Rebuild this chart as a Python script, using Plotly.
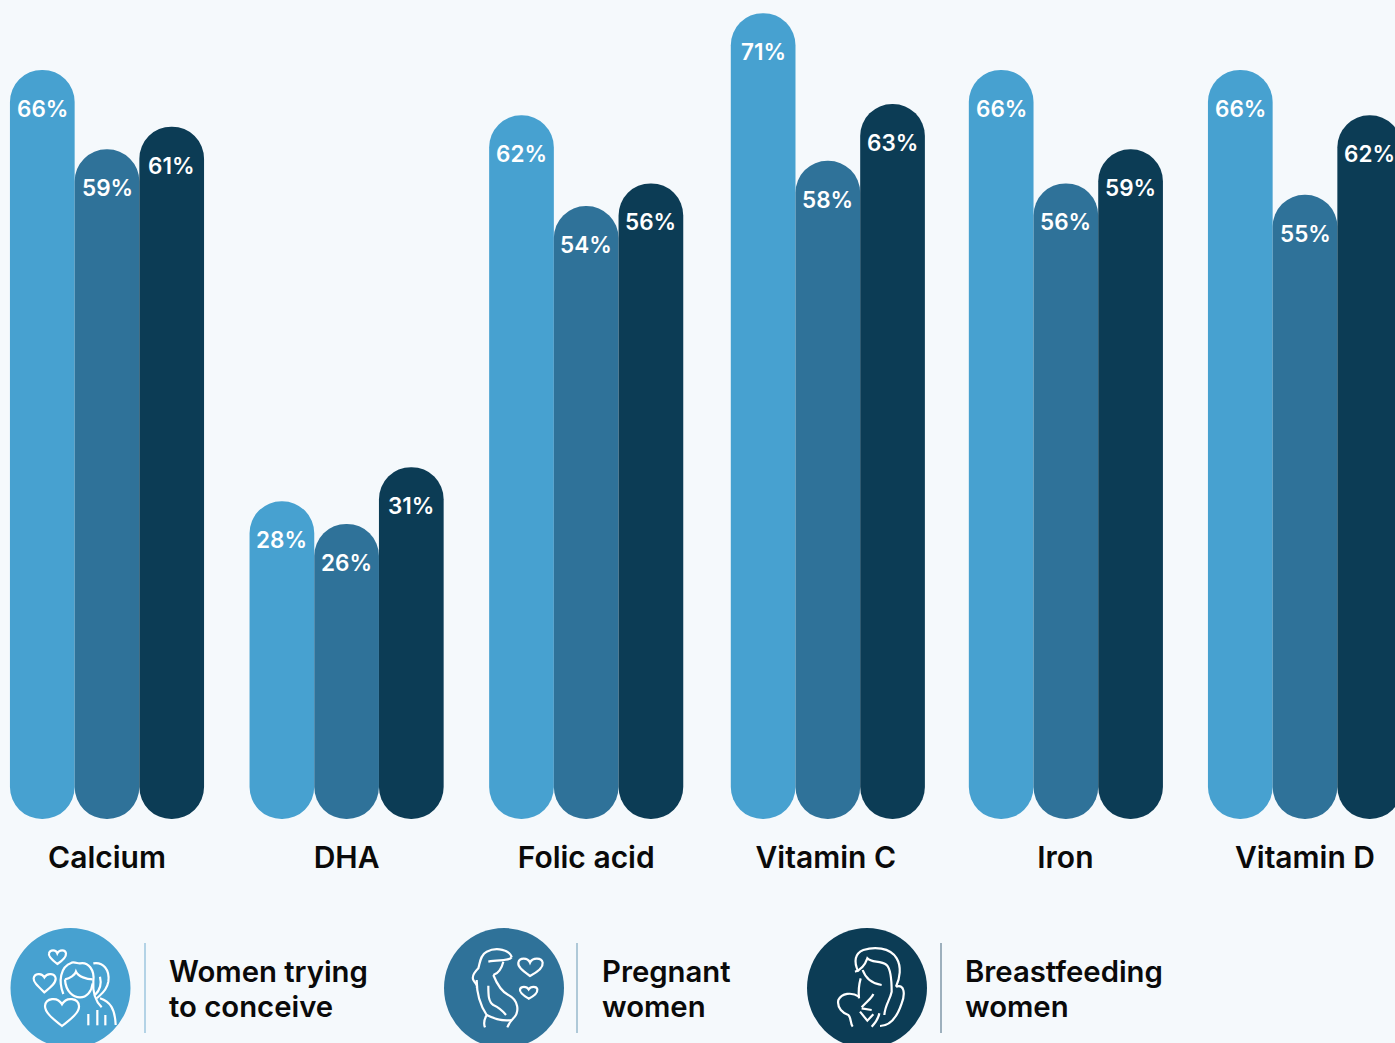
import re
import plotly.graph_objects as go

categories = ["Calcium", "DHA", "Folic acid", "Vitamin C", "Iron", "Vitamin D"]
trying = [66, 28, 62, 71, 66, 66]
pregnant = [59, 26, 54, 58, 56, 55]
breastfeeding = [61, 31, 56, 63, 59, 62]
series_lines = [["Women trying", "to conceive"], ["Pregnant", "women"], ["Breastfeeding", "women"]]
colors = ["#47A1D0", "#2F7299", "#0C3C55"]
divider_colors = ["#9CC6DF", "#97B8CC", "#7F97A8"]

W, H = 1395, 1043
BG = "#F5F9FC"
BASE_PX = 819
PX_PER_PCT = 11.35
GROUP_PX = 239.6
X0_PX = 107.0
BAR_PX = 64.7
RADIUS = BAR_PX / 2
FONT = "Inter"
TEXT_COLOR = "#0A0A0A"
nudge = [0, 0, 0, 0.0085, 0.002, 0]  # Vitamin C / Iron groups sit slightly right of the even grid

x_range = [-X0_PX / GROUP_PX, (W - X0_PX) / GROUP_PX]
y_range = [0, BASE_PX / PX_PER_PCT]
bar_w = BAR_PX / GROUP_PX

fig = go.Figure()
annotations = []
for k, (vals, col) in enumerate(zip([trying, pregnant, breastfeeding], colors)):
    xs = [i + nudge[i] + (k - 1) * bar_w for i in range(len(categories))]
    fig.add_bar(x=xs, y=vals, base=[0] * len(vals), width=bar_w,
                marker=dict(color=col, cornerradius=RADIUS, line_width=0),
                showlegend=False, hoverinfo="skip")
    for x, v in zip(xs, vals):
        annotations.append(dict(x=x, y=v, xref="x", yref="y", text=f"{v}%", showarrow=False,
                                yshift=-38.5, xanchor="center", yanchor="middle",
                                font=dict(family=FONT, size=22.5, color="white", weight=600)))


def px_path(s, ox=0.0, oy=0.0, scale=1.0):
    """Convert an SVG path in pixel space (optionally a 3x crop space) to paper coordinates."""
    tokens = re.findall(r"[MLCZHV]|-?\d+\.?\d*", s)
    out, i, cmd = [], 0, None
    lastx = lasty = 0.0
    while i < len(tokens):
        t = tokens[i]
        if t in "MLCZHV":
            cmd = t
            i += 1
            if t == "Z":
                out.append("Z")
            continue
        if cmd == "H":
            lastx = ox + float(t) * scale
            out.append(f"L{lastx / W:.5f},{1 - lasty / H:.5f}")
            i += 1
        elif cmd == "V":
            lasty = oy + float(t) * scale
            out.append(f"L{lastx / W:.5f},{1 - lasty / H:.5f}")
            i += 1
        else:
            n = 3 if cmd == "C" else 1
            pts = []
            for _ in range(n):
                lastx = ox + float(tokens[i]) * scale
                lasty = oy + float(tokens[i + 1]) * scale
                pts.append(f"{lastx / W:.5f},{1 - lasty / H:.5f}")
                i += 2
            out.append(cmd + " ".join(pts))
    return " ".join(out)


icon_paths = [
    (0, 920, [
        "M172 132 C150 115 145 105 147 100 C150 88 168 88 172 100 C178 88 196 88 198 100 C199 110 190 120 172 132 Z",
        "M133 217 C110 195 100 185 101 175 C103 160 125 157 133 172 C142 157 165 160 167 175 C168 188 155 200 133 217 Z",
        "M186 318 C150 290 135 275 135 258 C137 235 172 228 186 253 C200 228 235 235 237 258 C238 275 220 292 186 318 Z",
        "M190 222 C175 185 180 140 215 128 C225 125 235 132 240 130 C265 125 285 150 280 185 C278 210 283 240 305 262",
        "M195 178 C210 175 225 165 228 155 C235 170 260 178 278 178",
        "M195 178 C197 215 220 232 240 232 C260 232 275 215 278 190",
        "M300 235 C330 245 345 265 347 315",
        "M280 130 C310 125 330 150 325 185 C320 215 300 225 290 235",
        "M300 170 C305 190 300 210 285 225",
        "M265 282 V316", "M292 270 V316", "M316 285 V316",
    ]),
    (430, 920, [
        "M245 112 C240 90 200 80 170 95 C150 105 150 130 145 145 C135 155 125 170 130 180 C135 190 145 195 140 205",
        "M175 125 C205 118 235 125 245 112",
        "M220 125 C215 145 205 160 190 165",
        "M140 180 C140 220 150 255 170 285 C165 295 158 305 165 322",
        "M190 165 C200 190 215 215 235 225 C265 240 270 275 250 295 C240 305 235 315 232 322",
        "M175 197 C175 225 175 245 190 255 C205 262 220 275 228 285",
        "M170 285 C190 295 215 305 245 300",
        "M300 168 C275 150 263 140 265 128 C268 112 293 112 300 128 C307 112 335 112 338 128 C340 142 325 155 300 168 Z",
        "M296 236 C278 225 268 215 270 208 C273 198 290 198 296 208 C302 198 320 198 322 208 C323 218 312 228 296 236 Z",
    ]),
    (790, 920, [
        "M205 155 C190 125 195 100 220 90 C250 80 300 80 320 115 C335 140 330 175 318 200",
        "M318 200 C345 190 345 225 335 250 C320 295 300 318 270 318",
        "M195 155 C210 150 225 135 232 115 C245 130 270 120 290 135 C305 150 305 190 305 215 C300 240 285 255 283 285",
        "M218 150 C225 170 240 190 275 195",
        "M212 175 C205 200 205 215 207 235",
        "M207 230 C185 215 155 220 145 240 C140 265 160 280 175 285 C185 295 180 310 188 320",
        "M215 262 C230 245 245 235 250 222",
        "M210 275 L232 302 L250 283",
        "M215 265 L245 270",
        "M268 280 C265 295 255 310 245 320",
    ]),
]

legend_cx = [70.5, 504.0, 867.0]
legend_cy = 988
legend_r = 60
divider_x = [145, 577, 941]
legend_text_x = [166.5, 599.5, 962.5]
legend_line_y = [971.5, 1006.5]

shapes = []
for i in range(3):
    cx = legend_cx[i]
    shapes.append(dict(type="circle", xref="paper", yref="paper",
                       x0=(cx - legend_r) / W, x1=(cx + legend_r) / W,
                       y0=1 - (legend_cy + legend_r) / H, y1=1 - (legend_cy - legend_r) / H,
                       fillcolor=colors[i], line_width=0, layer="above"))
    shapes.append(dict(type="line", xref="paper", yref="paper",
                       x0=divider_x[i] / W, x1=divider_x[i] / W,
                       y0=1 - 1033 / H, y1=1 - 943 / H,
                       line=dict(color=divider_colors[i], width=1.5), layer="above"))
    ox, oy, paths = icon_paths[i]
    for p in paths:
        shapes.append(dict(type="path", xref="paper", yref="paper",
                           path=px_path(p, ox, oy, 1 / 3), fillcolor="rgba(0,0,0,0)",
                           line=dict(color="white", width=2.2), layer="above"))
    for line, ly in zip(series_lines[i], legend_line_y):
        annotations.append(dict(xref="paper", yref="paper", x=legend_text_x[i] / W, y=1 - ly / H,
                                text=line, showarrow=False, xanchor="left", yanchor="middle",
                                font=dict(family=FONT, size=29.3, color=TEXT_COLOR, weight=600)))

fig.update_layout(
    width=W, height=H, margin=dict(l=0, r=0, t=0, b=0),
    paper_bgcolor=BG, plot_bgcolor=BG, barmode="overlay", showlegend=False,
    shapes=shapes, annotations=annotations,
    xaxis=dict(range=x_range, tickmode="array", tickvals=list(range(len(categories))),
               ticktext=categories, showgrid=False, zeroline=False, showline=False,
               ticks="outside", ticklen=12, tickcolor="rgba(0,0,0,0)",
               tickfont=dict(family=FONT, size=30, color=TEXT_COLOR, weight=600), automargin=False,
               fixedrange=True),
    yaxis=dict(range=y_range, domain=[1 - BASE_PX / H, 1], visible=False, fixedrange=True),
)
fig.write_html("out.html", config=dict(displayModeBar=False),
               post_script="document.body.style.margin='0';document.body.style.overflow='hidden';")
